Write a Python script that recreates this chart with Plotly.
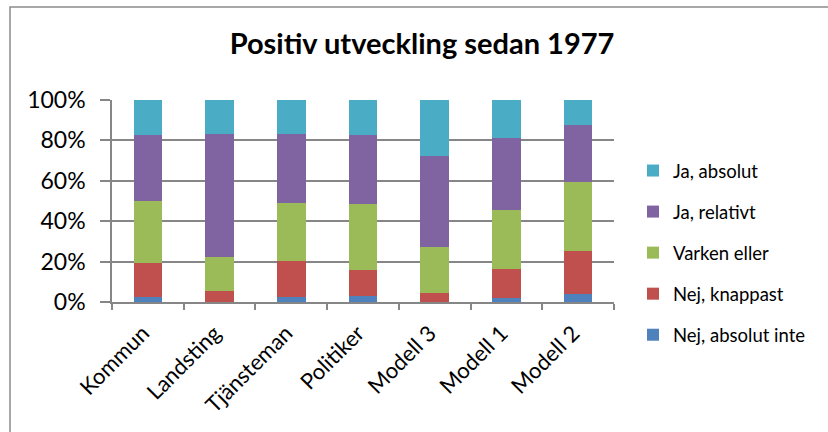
import plotly.graph_objects as go

categories = ["Kommun", "Landsting", "Tjänsteman", "Politiker", "Modell 3", "Modell 1", "Modell 2"]
nej_absolut_inte = [2.5, 0.0, 2.3, 2.8, 0.0, 2.1, 3.8]
nej_knappast = [16.6, 5.3, 18.0, 13.0, 4.3, 14.0, 21.4]
varken_eller = [31.1, 16.8, 28.8, 32.8, 23.0, 29.5, 34.4]
ja_relativt = [32.3, 61.3, 33.9, 33.9, 44.9, 35.8, 28.2]
ja_absolut = [17.5, 16.6, 17.0, 17.5, 27.8, 18.6, 12.2]

series = [
    ("Nej, absolut inte", nej_absolut_inte, "#4F81BD"),
    ("Nej, knappast", nej_knappast, "#C0504D"),
    ("Varken eller", varken_eller, "#9BBB59"),
    ("Ja, relativt", ja_relativt, "#8064A2"),
    ("Ja, absolut", ja_absolut, "#4BACC6"),
]

FONT = "Lato, Calibri, sans-serif"
GRID = "#868686"

totals = [a + b + c + d + e for a, b, c, d, e in zip(nej_absolut_inte, nej_knappast, varken_eller, ja_relativt, ja_absolut)]

fig = go.Figure()
for i, (name, vals, color) in enumerate(series):
    fig.add_trace(go.Bar(
        x=categories,
        y=[v / t for v, t in zip(vals, totals)],
        name=name,
        legendgroup=name,
        legendrank=len(series) - i,
        marker=dict(color=color, line=dict(width=0)),
    ))

fig.update_layout(
    width=828,
    height=432,
    barmode="stack",
    bargap=0.6,
    paper_bgcolor="white",
    plot_bgcolor="white",
    margin=dict(l=112, r=214, t=100, b=130),
    font=dict(family=FONT, color="black"),
    title=dict(
        text="<b>Positiv utveckling sedan 1977</b>",
        x=422 / 828,
        xanchor="center",
        y=1 - 44 / 432,
        yanchor="middle",
        font=dict(size=29, family=FONT, color="black"),
    ),
    legend=dict(
        x=(633 - 112) / 502,
        xanchor="left",
        y=(302 - 253) / 202,
        yanchor="middle",
        traceorder="grouped",
        tracegroupgap=14,
        maxheight=400,
        font=dict(size=18.5, family=FONT, color="black"),
        itemclick=False,
    ),
    xaxis=dict(
        showline=True,
        linecolor=GRID,
        linewidth=1.5,
        ticks="outside",
        tickson="boundaries",
        ticklen=6,
        tickcolor=GRID,
        tickwidth=1.5,
        tickangle=-45,
        ticklabelstandoff=8,
        ticklabelshift=-5,
        tickfont=dict(size=22, family=FONT, color="black"),
    ),
    yaxis=dict(
        range=[0, 1],
        dtick=0.2,
        tickformat=".0%",
        showgrid=True,
        gridcolor=GRID,
        gridwidth=1.5,
        showline=True,
        linecolor=GRID,
        linewidth=1.5,
        ticks="outside",
        ticklen=10,
        tickcolor=GRID,
        tickwidth=1.5,
        ticklabelstandoff=10,
        tickfont=dict(size=23, family=FONT, color="black"),
        zeroline=False,
    ),
    shapes=[dict(
        type="rect",
        xref="paper",
        yref="paper",
        x0=(10 - 112) / 502,
        x1=3,
        y0=-3,
        y1=(302 - 7) / 202,
        line=dict(color="#8C8C8C", width=1.5),
        fillcolor="rgba(0,0,0,0)",
    )],
)

fig.write_html(
    "out.html",
    config={"displayModeBar": False},
    post_script="document.body.style.margin='0';",
)
